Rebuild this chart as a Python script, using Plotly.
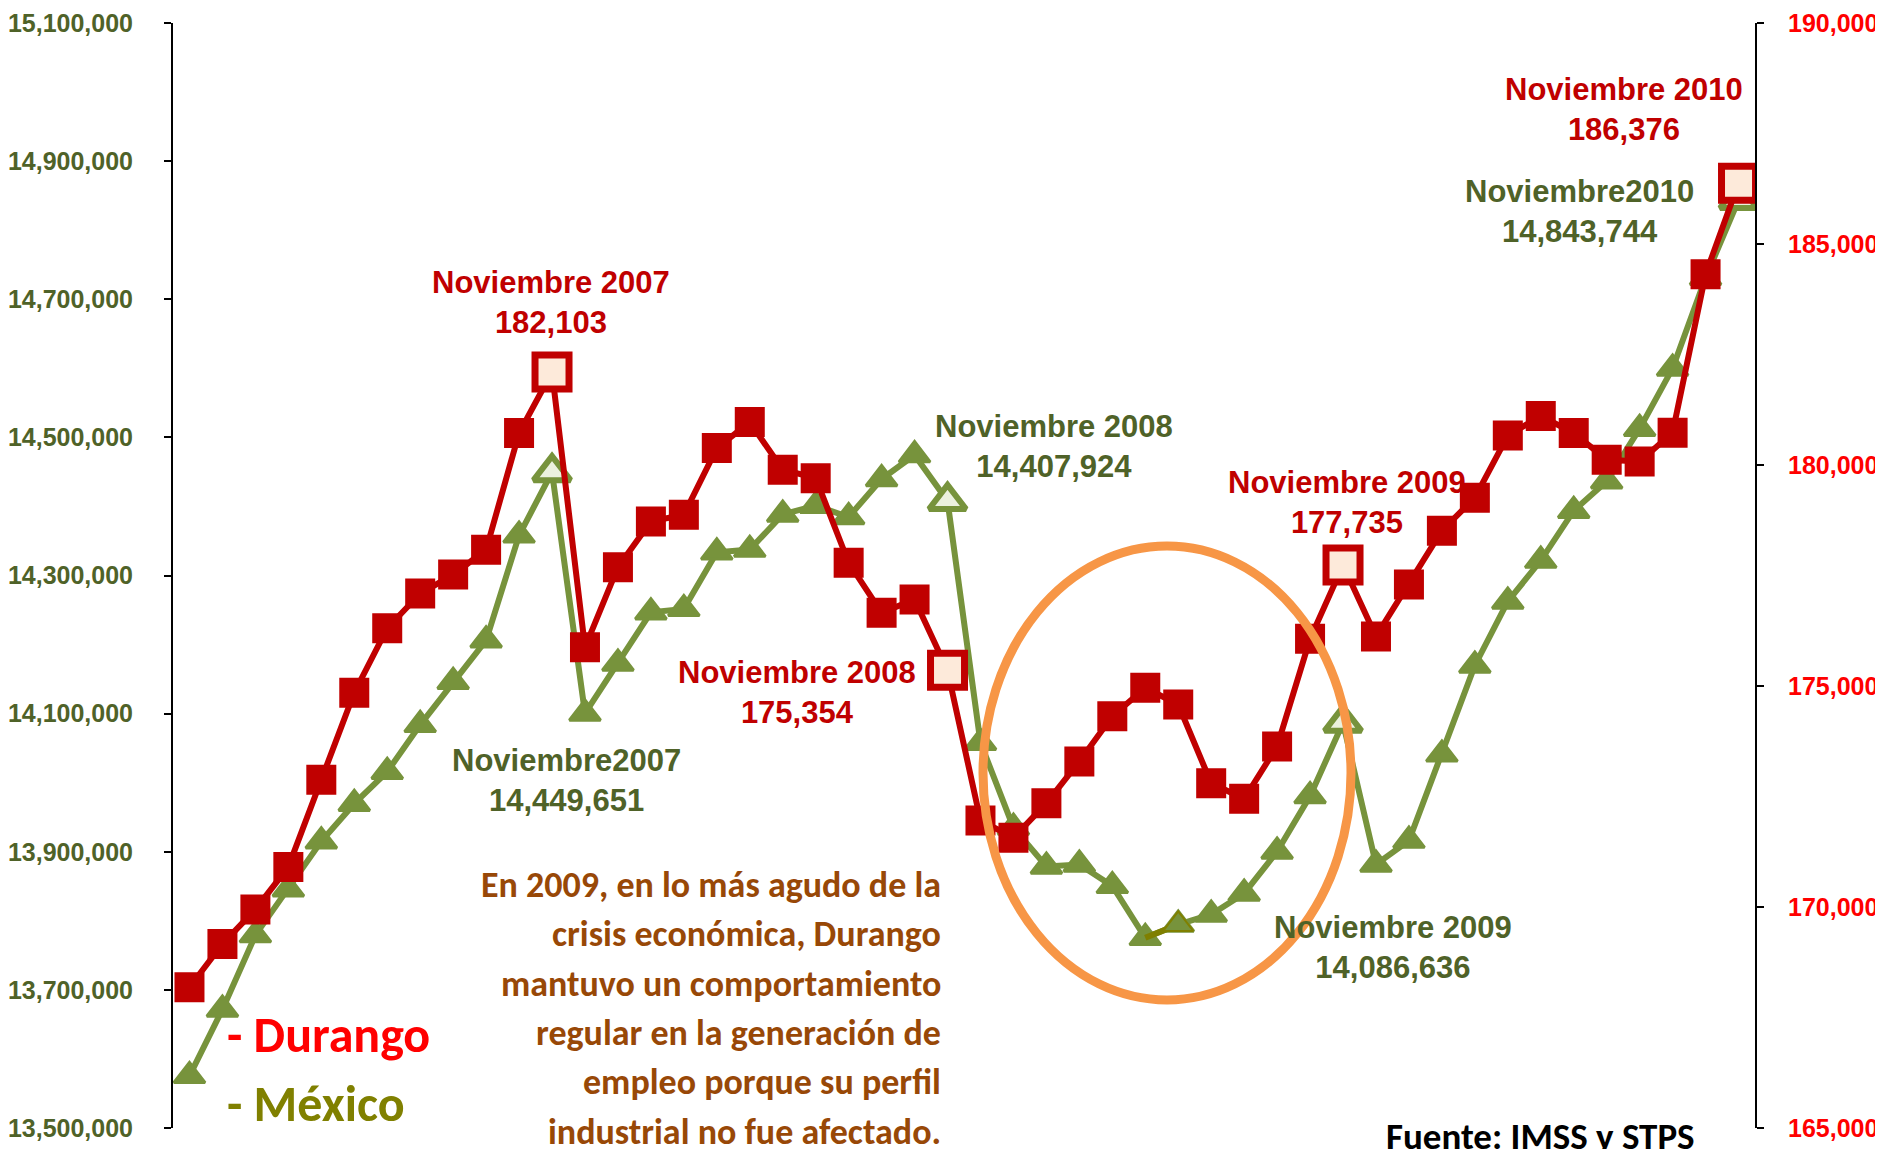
import plotly.graph_objects as go

# meses de dic 2006 a nov 2010
anios = [2006] + [2007] * 12 + [2008] * 12 + [2009] * 12 + [2010] * 11
nombres = ['Ene', 'Feb', 'Mar', 'Abr', 'May', 'Jun', 'Jul', 'Ago', 'Sep', 'Oct', 'Nov', 'Dic']
meses = ['Dic 2006'] + ['%s %d' % (nombres[i % 12], anios[i + 1]) for i in range(47)]

# trabajadores asegurados en el IMSS
durango = [168185, 169162, 169945, 170907, 172880, 174847, 176309, 177092, 177520, 178083,
           180722, 182103, 175875, 177689, 178723, 178875, 180382, 180971, 179893, 179703,
           177789, 176657, 176958, 175354, 171957, 171566, 172349, 173292, 174317, 174960,
           174582, 172801, 172448, 173632, 176069, 177735, 176121, 177298, 178515, 179260,
           180665, 181109, 180724, 180120, 180079, 180730, 184313, 186376]

mexico = [13575500, 13671700, 13779300, 13845800, 13915200, 13969600, 14015900, 14083800,
          14146300, 14206200, 14358150, 14449651, 14100300, 14172600, 14246800, 14251700,
          14333600, 14337500, 14388500, 14401100, 14384700, 14439700, 14474400, 14407924,
          14057900, 13935000, 13878600, 13881500, 13850600, 13775400, 13794700, 13809200,
          13839600, 13900300, 13980700, 14086636, 13881500, 13916200, 14041000, 14169700,
          14262500, 14321600, 14393900, 14436500, 14512600, 14599900, 14731100, 14843744]

# puntos de noviembre que se resaltan
noviembres = ['Nov 2007', 'Nov 2008', 'Nov 2009', 'Nov 2010']

texto = ['En 2009, en lo más agudo de la',
         'crisis económica, Durango',
         'mantuvo un comportamiento',
         'regular en la generación de',
         'empleo porque su perfil',
         'industrial no fue afectado.']

ROJO = '#C00000'
VERDE = '#77933C'
VERDE_TXT = '#4F6228'

# area de trazado en pixeles de pantalla; la pagina deja 8px de margen
OFF = 8
W, H = 1883 - OFF, 1149 - OFF
L, R, T, B = 173, 1755, 23, 1128


def px(x):
    return (x - L) / (R - L)


def py(y):
    return 1 - (y - T) / (B - T)


es_nov = [m in noviembres for m in meses]

fig = go.Figure()

fig.add_trace(go.Scatter(
    x=meses, y=durango, yaxis='y2', mode='lines+markers', name='Durango',
    line=dict(color=ROJO, width=6),
    marker=dict(symbol='square', opacity=1,
                size=[34 if n else 27 for n in es_nov],
                color=['#FDEADA' if n else ROJO for n in es_nov],
                line=dict(color=ROJO, width=[7 if n else 3 for n in es_nov]))
))

fig.add_trace(go.Scatter(
    x=meses, y=mexico, mode='lines+markers', name='México',
    line=dict(color=VERDE, width=6),
    marker=dict(symbol='triangle-up', opacity=1,
                size=[32 if n else 27 for n in es_nov],
                color=['#EBF1DE' if n else VERDE for n in es_nov],
                line=dict(color=VERDE, width=[6 if n else 3 for n in es_nov]))
))

# segmento resaltado en olivo
fig.add_trace(go.Scatter(
    x=meses[29:31], y=mexico[29:31], mode='lines+markers',
    line=dict(color='#7F7F00', width=6),
    marker=dict(symbol='triangle-up', size=26, color=VERDE, opacity=[0, 1],
                line=dict(color='#808000', width=2))
))

eje = dict(showgrid=False, zeroline=False, showline=True, linecolor='black', linewidth=2,
           ticks='outside', ticklen=7, tickwidth=2, tickcolor='black', tickformat=',d',
           automargin=False)

fig.update_layout(
    width=W, height=H,
    margin=dict(l=L - OFF, r=W - (R - OFF), t=T - OFF, b=H - (B - OFF)),
    plot_bgcolor='white', paper_bgcolor='white',
    showlegend=False,
    xaxis=dict(visible=False, range=[-0.5, 47.5]),
    yaxis=dict(range=[13500000, 15100000], tick0=13500000, dtick=200000,
               ticklabelstandoff=26,
               tickfont=dict(family='Arial, Liberation Sans', size=25, color=VERDE_TXT, weight='bold'),
               **eje),
    yaxis2=dict(range=[165000, 190000], tick0=165000, dtick=5000, overlaying='y', side='right',
                ticklabelstandoff=19,
                tickfont=dict(family='Arial, Liberation Sans', size=25, color='#FF0000', weight='bold'),
                **eje),
)

fuente = 'Arial, Liberation Sans'
etiquetas = [
    ('Noviembre 2007<br>182,103', ROJO, 551, 302),
    ('Noviembre2007<br>14,449,651', VERDE_TXT, 566, 780),
    ('Noviembre 2008<br>175,354', ROJO, 797, 692),
    ('Noviembre 2008<br>14,407,924', VERDE_TXT, 1054, 447),
    ('Noviembre 2009<br>177,735', ROJO, 1347, 502),
    ('Noviembre 2009<br>14,086,636', VERDE_TXT, 1393, 947),
    ('Noviembre 2010<br>186,376', ROJO, 1624, 110),
    ('Noviembre2010<br>14,843,744', VERDE_TXT, 1579, 211),
]
for txt, col, x, y in etiquetas:
    fig.add_annotation(text=txt, x=px(x), y=py(y), xref='paper', yref='paper',
                       showarrow=False, xanchor='center', yanchor='middle',
                       font=dict(family=fuente, size=31, color=col, weight='bold'))

calibri = 'Carlito, Lato, Open Sans'
fig.add_annotation(text='- Durango', x=px(225), y=py(1034), xref='paper', yref='paper',
                   showarrow=False, xanchor='left', yanchor='middle',
                   font=dict(family=calibri, size=50, color='#FF0000', weight='bold'))
fig.add_annotation(text='- México', x=px(225), y=py(1103), xref='paper', yref='paper',
                   showarrow=False, xanchor='left', yanchor='middle',
                   font=dict(family=calibri, size=50, color='#808000', weight='bold'))

for i, linea in enumerate(texto):
    fig.add_annotation(text=linea, x=px(943), y=py(885 + 49.3 * i), xref='paper', yref='paper',
                       showarrow=False, xanchor='right', yanchor='middle',
                       font=dict(family=calibri, size=36, color='#984807', weight='bold'))

fig.add_annotation(text='Fuente: IMSS y STPS', x=px(1540), y=py(1136), xref='paper', yref='paper',
                   showarrow=False, xanchor='center', yanchor='middle',
                   font=dict(family=calibri, size=37, color='black', weight='bold'))

fig.add_shape(type='circle', xref='paper', yref='paper',
              x0=px(983), x1=px(1351), y0=py(1000), y1=py(546),
              line=dict(color='#F79646', width=9), layer='above')

fig.write_html('out.html')
